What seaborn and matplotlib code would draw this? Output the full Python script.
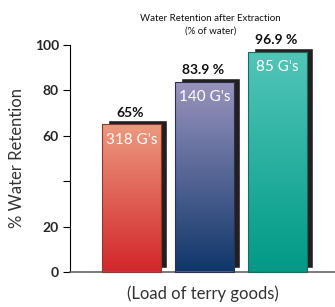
import numpy as np
import pandas as pd
import matplotlib
matplotlib.use("Agg")
import matplotlib.pyplot as plt
import matplotlib.transforms as mtransforms
from matplotlib.colors import LinearSegmentedColormap
import seaborn as sns

# data
loads = ["318 G's", "140 G's", "85 G's"]
retention = [65, 83.9, 96.9]
value_labels = ["65%", "83.9 %", "96.9 %"]
y_ticks = [0, 20, 40, 60, 80, 100]
y_tick_labels = ["0", "20", "", "60", "80", "100"]

# gradient colours (top, bottom) per bar
grad_top = ["#EC9A80", "#9A94BE", "#52C6B8"]
grad_bottom = ["#D3262A", "#0F366A", "#009A86"]
edge_cols = ["#8A3A2A", "#2A3050", "#1E6A60"]

df = pd.DataFrame({"load": loads, "retention": retention})

sns.set_style("white")
plt.rcParams["font.family"] = ["Lato", "DejaVu Sans"]

fig = plt.figure(figsize=(3.35, 3.07), dpi=100)
ax = fig.add_axes([70 / 335, 35 / 307, 265 / 335, 227 / 307])

# shadow bars, shifted right and up a few pixels
sns.barplot(data=df, x="load", y="retention", color="#231F20", width=0.81,
            saturation=1, ax=ax, zorder=1)
n_shadow = len(ax.patches)
shift = mtransforms.offset_copy(ax.transData, fig=fig, x=6, y=4, units="dots")
for p in ax.patches[:n_shadow]:
    p.set_transform(shift)
    p.set_clip_on(False)

# main bars
sns.barplot(data=df, x="load", y="retention", color="white", width=0.81,
            saturation=1, ax=ax, zorder=3)
main = ax.patches[n_shadow:]
for i, p in enumerate(main):
    x0, w, h = p.get_x(), p.get_width(), p.get_height()
    cmap = LinearSegmentedColormap.from_list("g%d" % i, [grad_bottom[i], grad_top[i]])
    grad = np.linspace(0, 1, 256).reshape(-1, 1)
    im = ax.imshow(grad, cmap=cmap, origin="lower", aspect="auto",
                   extent=[x0, x0 + w, 0, h], zorder=2)
    im.set_clip_path(p)
    p.set_facecolor("none")
    p.set_edgecolor(edge_cols[i])
    p.set_linewidth(0.8)
    p.set_clip_on(False)
    cx = x0 + w / 2
    ax.annotate(value_labels[i], (cx, h), xytext=(-1, 4), textcoords="offset points",
                ha="center", va="bottom", fontsize=10, fontweight="bold", color="#111111")
    ax.annotate(loads[i], (cx, h), xytext=(0, -11), textcoords="offset points",
                ha="center", va="center", fontsize=11, color="white")

ax.set_xlim(-0.842, 2.79)
ax.set_ylim(0, 100)
ax.set_yticks(y_ticks)
ax.set_yticklabels(y_tick_labels, fontsize=10, fontweight="bold")
ax.set_xticks([])
ax.tick_params(axis="y", which="both", left=True, length=5, width=0.8, color="black", pad=3)
for s in ["top", "right"]:
    ax.spines[s].set_visible(False)
ax.spines["left"].set_color("black")
ax.spines["left"].set_linewidth(0.8)
ax.spines["bottom"].set_color("#666666")
ax.spines["bottom"].set_linewidth(1.2)

ax.set_xlabel("(Load of terry goods)", fontsize=12, color="#333333", labelpad=10)
ax.set_ylabel("% Water Retention", fontsize=12, color="#333333", labelpad=7)
ax.set_title("Water Retention after Extraction\n(% of water)", fontsize=7,
             color="#111111", pad=8, x=0.53, linespacing=1.6)

fig.savefig("out.png", dpi=100)
